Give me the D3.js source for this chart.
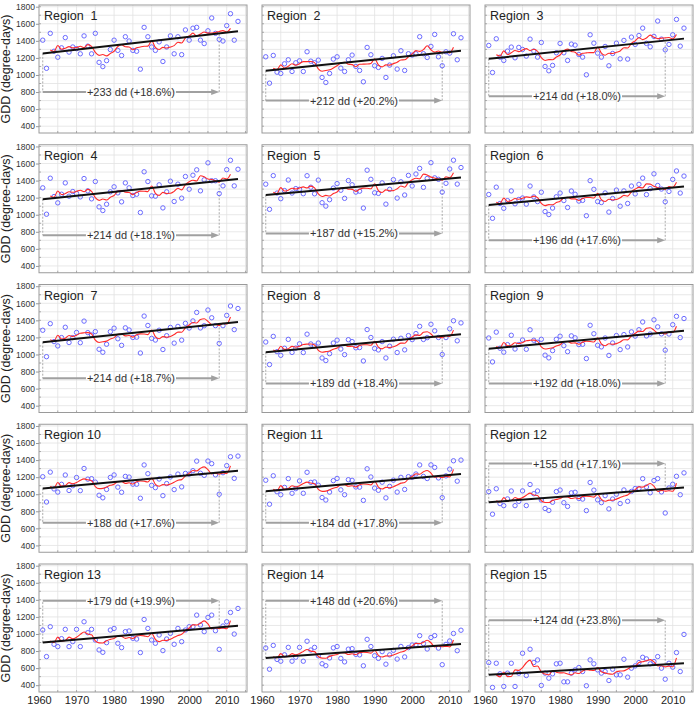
<!DOCTYPE html>
<html><head><meta charset="utf-8">
<script src="https://cdn.jsdelivr.net/npm/d3@7"></script>
<style>
body{margin:0;background:#fff;}
svg{display:block;font-family:"Liberation Sans",Arial,Helvetica,sans-serif;}
</style></head><body>
<svg id="chart" width="695" height="707"></svg>
<script>
const years = d3.range(1961, 2014);
const regionNames = ["Region  1","Region  2","Region  3","Region  4","Region  5","Region  6","Region  7","Region  8","Region  9","Region 10","Region 11","Region 12","Region 13","Region 14","Region 15"];
const ddChange = [233,212,214,214,187,196,214,189,192,188,184,155,179,148,124];
const pctChange = ["18.6","20.2","18.0","18.1","15.2","17.6","18.7","18.4","18.0","17.6","17.8","17.1","19.9","20.6","23.8"];
const trendStart = [1253,1050,1189,1182,1230,1114,1144,1027,1067,1068,1034,906,899,718,521];
const trendEnd   = [1511,1285,1426,1419,1437,1331,1381,1236,1279,1276,1238,1078,1097,882,658];
const arrowLevel = [800,700,750,760,780,700,720,660,660,666,666,1360,1390,1390,1160];
const xTicks = [1960,1970,1980,1990,2000,2010];
const yTicks = [400,600,800,1000,1200,1400,1600,1800];

const gdd1 = [1408,1078,1488,1278,1208,1318,1438,1268,1328,1308,1248,1458,1338,1248,1488,1148,1098,1168,1298,1408,1288,1228,1448,1398,1288,1278,1068,1558,1448,1328,1288,1388,1158,1328,1458,1248,1448,1238,1528,1408,1548,1558,1408,1368,1518,1668,1488,1418,1398,1578,1718,1408,1628];
const gdd2 = [1213,904,1229,1033,1018,1131,1178,1041,1143,1166,1041,1272,1162,1143,1174,971,912,1018,1186,1213,1080,1041,1178,1233,1100,1053,920,1323,1237,1108,1088,1194,971,1116,1225,1069,1284,1053,1249,1233,1249,1448,1249,1205,1335,1475,1213,1108,1272,1256,1483,1178,1436];
const gdd3 = [1346,1029,1424,1209,1170,1280,1327,1201,1323,1299,1221,1420,1280,1209,1381,1100,1049,1112,1260,1370,1260,1170,1362,1350,1240,1209,1002,1471,1373,1256,1209,1334,1108,1252,1373,1189,1405,1186,1444,1358,1463,1549,1370,1330,1452,1632,1420,1295,1358,1471,1651,1338,1549];
const gdd4 = [1315,1006,1428,1213,1139,1240,1373,1217,1272,1248,1209,1424,1280,1186,1389,1092,1049,1123,1268,1327,1256,1151,1373,1315,1225,1240,1026,1503,1389,1221,1217,1350,1080,1268,1393,1155,1358,1194,1448,1299,1463,1526,1280,1409,1608,1398,1398,1248,1338,1528,1638,1338,1533];
const gdd5 = [1358,1063,1458,1254,1188,1283,1407,1254,1306,1298,1246,1457,1322,1245,1406,1141,1101,1176,1312,1365,1287,1192,1400,1351,1265,1276,1078,1522,1415,1257,1250,1373,1124,1298,1411,1195,1386,1231,1461,1337,1477,1543,1321,1425,1610,1432,1415,1265,1368,1536,1639,1359,1553];
const gdd6 = [1237,958,1323,1132,1075,1165,1279,1128,1179,1196,1124,1336,1209,1154,1264,1037,1002,1078,1210,1254,1166,1085,1278,1240,1160,1168,988,1399,1298,1154,1143,1255,1031,1190,1289,1100,1279,1132,1336,1244,1356,1429,1236,1306,1479,1343,1301,1152,1273,1414,1513,1254,1453];
const gdd7 = [1284,974,1361,1151,1100,1198,1319,1140,1198,1258,1138,1391,1256,1228,1268,1061,1026,1120,1267,1308,1184,1107,1312,1287,1199,1203,1017,1450,1340,1189,1169,1284,1058,1220,1317,1133,1329,1168,1365,1310,1393,1493,1311,1337,1521,1430,1338,1130,1337,1458,1568,1291,1539];
const gdd8 = [1146,882,1212,1033,990,1073,1177,1024,1074,1125,1023,1238,1123,1100,1134,959,929,1009,1134,1168,1064,998,1173,1151,1078,1081,924,1292,1199,1070,1053,1151,959,1097,1179,1023,1190,1054,1221,1174,1245,1330,1176,1197,1354,1277,1199,1000,1198,1301,1395,1160,1370];
const gdd9 = [1193,913,1262,1073,1027,1115,1225,1064,1116,1170,1061,1289,1167,1143,1178,992,960,1045,1178,1214,1103,1033,1218,1195,1116,1119,952,1342,1243,1108,1089,1193,989,1135,1222,1057,1233,1088,1265,1215,1290,1381,1217,1240,1406,1324,1241,1050,1240,1349,1447,1198,1421];
const gdd10 = [1205,909,1259,1062,1025,1116,1225,1044,1100,1196,1042,1302,1177,1182,1142,988,958,1056,1197,1226,1083,1023,1209,1201,1118,1117,953,1343,1241,1104,1077,1178,983,1125,1202,1054,1236,1086,1244,1236,1276,1388,1246,1221,1389,1358,1227,1000,1252,1335,1439,1186,1447];
const gdd11 = [1164,883,1216,1029,994,1080,1183,1011,1065,1156,1011,1257,1139,1144,1106,961,932,1025,1159,1185,1051,994,1170,1163,1085,1083,928,1298,1202,1072,1046,1141,957,1092,1165,1025,1198,1056,1206,1199,1237,1343,1208,1184,1344,1314,1191,960,1215,1294,1392,1153,1400];
const gdd12 = [1031,766,1064,890,866,945,1038,866,916,1039,867,1114,1006,1038,932,833,810,906,1031,1049,901,857,1016,1023,950,943,808,1138,1048,934,901,983,828,944,1000,891,1050,917,1033,1067,1067,1182,1084,1017,1160,1183,1027,780,1073,1117,1210,994,1250];
const gdd13 = [1046,735,1085,879,852,945,1054,852,910,1054,852,1143,1015,1054,929,813,785,898,1046,1065,891,840,1027,1035,949,941,782,1170,1065,929,891,988,805,941,1007,879,1065,910,1046,1085,1085,1221,1105,1027,1194,1221,1038,820,1093,1143,1252,999,1299];
const gdd14 = [836,587,866,702,681,756,843,681,728,843,681,915,812,843,744,651,628,719,837,853,714,673,822,828,761,755,627,937,853,745,714,793,646,755,808,706,854,731,840,871,871,980,887,824,959,981,834,640,878,918,1006,804,1044];
const gdd15 = [665,373,657,533,385,541,657,385,541,774,513,821,665,696,397,541,482,533,650,657,439,439,541,579,607,560,393,696,650,579,541,560,455,587,521,521,704,494,599,626,665,727,708,650,677,735,599,470,657,611,782,560,995];
const gddSeries = [gdd1,gdd2,gdd3,gdd4,gdd5,gdd6,gdd7,gdd8,gdd9,gdd10,gdd11,gdd12,gdd13,gdd14,gdd15];

const svg = d3.select("#chart");
const colLeft = [39, 262, 485];
const plotW = 208, plotH = 128;
const rowTop = r => 5 + 139.75 * r;
const x = d3.scaleLinear().domain([1960, 2015.4]).range([0, plotW]);
const y = d3.scaleLinear().domain([320, 1820]).range([plotH, 0]);

regionNames.forEach((name, i) => {
  const col = i % 3, row = Math.floor(i / 3);
  const g = svg.append("g").attr("transform", `translate(${colLeft[col]},${rowTop(row)})`);
  // grid
  g.append("g").selectAll("line").data(d3.range(1965, 2015.4, 5)).join("line")
    .attr("x1", d => x(d)).attr("x2", d => x(d)).attr("y1", 0).attr("y2", plotH)
    .attr("stroke", "#e2e2e2").attr("stroke-width", 0.8);
  g.append("g").selectAll("line").data(d3.range(400, 1801, 100)).join("line")
    .attr("y1", d => y(d)).attr("y2", d => y(d)).attr("x1", 0).attr("x2", plotW)
    .attr("stroke", "#e2e2e2").attr("stroke-width", 0.8);
  // inner ticks
  g.append("g").selectAll("line").data(d3.range(1965, 2015.4, 5)).join("line")
    .attr("x1", d => x(d)).attr("x2", d => x(d)).attr("y1", plotH - 2).attr("y2", plotH)
    .attr("stroke", "#999").attr("stroke-width", 0.8);
  g.append("g").selectAll("line").data(d3.range(400, 1801, 100)).join("line")
    .attr("y1", d => y(d)).attr("y2", d => y(d)).attr("x1", 0).attr("x2", 2)
    .attr("stroke", "#999").attr("stroke-width", 0.8);
  g.append("rect").attr("x", 0).attr("y", 0).attr("width", plotW).attr("height", plotH)
    .attr("fill", "none").attr("stroke", "#9a9a9a").attr("stroke-width", 1);

  if (col === 0) {
    const ax = g.append("g").call(d3.axisLeft(y).tickValues(yTicks).tickSize(3).tickPadding(1).tickFormat(d3.format("d")));
    ax.select(".domain").remove();
    ax.selectAll("line").attr("stroke", "#999");
    ax.selectAll("text").attr("font-size", 8.5).attr("fill", "#333").attr("font-family", null);
    g.append("text").attr("transform", `translate(${-29},${plotH / 2}) rotate(-90)`)
      .attr("text-anchor", "middle").attr("font-size", 12.5).attr("fill", "#222")
      .text("GDD (degree-days)");
  }
  if (row === 4) {
    const ax = g.append("g").attr("transform", `translate(0,${plotH})`)
      .call(d3.axisBottom(x).tickValues(xTicks).tickSize(0).tickPadding(4).tickFormat(d3.format("d")));
    ax.select(".domain").remove();
    ax.selectAll("text").attr("font-size", 11).attr("fill", "#222").attr("font-family", null);
  }

  const trend = d3.scaleLinear().domain([1961, 2013]).range([trendStart[i], trendEnd[i]]);
  const vals = gddSeries[i];
  const pts = vals.map((v, k) => ({yr: years[k], v}));

  // annotation
  const xa = x(1961), xb = x(2008), ya = y(arrowLevel[i]);
  g.append("line").attr("x1", xa).attr("x2", xa).attr("y1", y(trend(1961))).attr("y2", ya)
    .attr("stroke", "#aaa").attr("stroke-width", 1).attr("stroke-dasharray", "2,1.5");
  g.append("line").attr("x1", xb).attr("x2", xb).attr("y1", ya).attr("y2", y(trend(2008)))
    .attr("stroke", "#aaa").attr("stroke-width", 1).attr("stroke-dasharray", "2,1.5");
  const tc = x((1961 + 2008) / 2);
  const label = g.append("text").attr("x", tc).attr("y", ya + 4)
    .attr("text-anchor", "middle").attr("font-size", 11).attr("fill", "#333")
    .text(`+${ddChange[i]} dd (+${pctChange[i]}%)`);
  const tw = label.node().getComputedTextLength();
  g.append("line").attr("x1", xa).attr("x2", tc - tw / 2 - 1).attr("y1", ya).attr("y2", ya)
    .attr("stroke", "#a0a0a0").attr("stroke-width", 2);
  g.append("line").attr("x1", tc + tw / 2 + 1).attr("x2", xb - 6).attr("y1", ya).attr("y2", ya)
    .attr("stroke", "#a0a0a0").attr("stroke-width", 2);
  g.append("path").attr("d", `M${xb},${ya} L${xb - 8},${ya - 3} L${xb - 8},${ya + 3} Z`)
    .attr("fill", "#a0a0a0");

  // points
  g.append("g").selectAll("circle").data(pts).join("circle")
    .attr("cx", d => x(d.yr)).attr("cy", d => y(d.v)).attr("r", 2.2)
    .attr("fill", "none").attr("stroke", "#6a6aff").attr("stroke-width", 1);

  // 5-yr running mean
  if (pts.length === years.length) {
    const ma = [];
    for (let k = 2; k < pts.length - 2; k++) {
      ma.push({yr: pts[k].yr, v: d3.mean(pts.slice(k - 2, k + 3), d => d.v)});
    }
    g.append("path").datum(ma)
      .attr("d", d3.line().x(d => x(d.yr)).y(d => y(d.v)).curve(d3.curveMonotoneX))
      .attr("fill", "none").attr("stroke", "#ff2a2a").attr("stroke-width", 1.1);
  }

  // trend
  g.append("line").attr("x1", x(1961)).attr("x2", x(2013))
    .attr("y1", y(trendStart[i])).attr("y2", y(trendEnd[i]))
    .attr("stroke", "#111").attr("stroke-width", 2);

  g.append("text").attr("x", 5).attr("y", 15).attr("font-size", 12.5).attr("fill", "#222")
    .style("white-space", "pre").text(name);
});
</script>
</body></html>
